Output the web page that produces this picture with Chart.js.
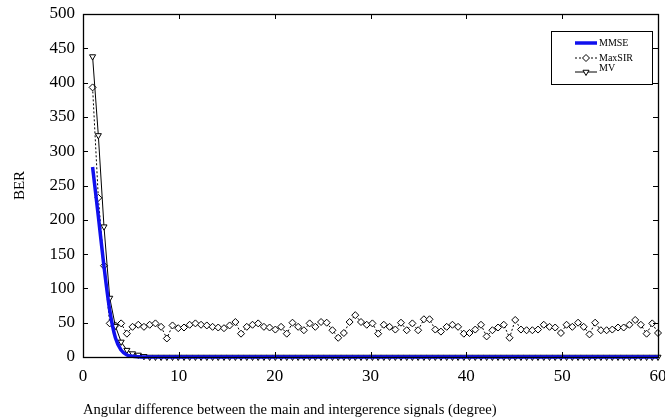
<!DOCTYPE html>
<html>
<head>
<meta charset="utf-8">
<script src="https://cdn.jsdelivr.net/npm/chart.js@4.4.0/dist/chart.umd.min.js"></script>
<style>
  html, body { margin: 0; padding: 0; background: #fff; }
  #wrap { width: 665px; height: 419px; }
</style>
</head>
<body>
<div id="wrap"><canvas id="berChart" width="665" height="419"></canvas></div>
<script>
// angle grid (degree), 100 points from 1 to 60
const angles = [
  1.00, 1.60, 2.19, 2.79, 3.38, 3.98, 4.58, 5.17, 5.77, 6.36,
  6.96, 7.56, 8.15, 8.75, 9.34, 9.94, 10.54, 11.13, 11.73, 12.32,
  12.92, 13.52, 14.11, 14.71, 15.30, 15.90, 16.49, 17.09, 17.69, 18.28,
  18.88, 19.47, 20.07, 20.67, 21.26, 21.86, 22.45, 23.05, 23.65, 24.24,
  24.84, 25.43, 26.03, 26.63, 27.22, 27.82, 28.41, 29.01, 29.61, 30.20,
  30.80, 31.39, 31.99, 32.59, 33.18, 33.78, 34.37, 34.97, 35.57, 36.16,
  36.76, 37.35, 37.95, 38.55, 39.14, 39.74, 40.33, 40.93, 41.53, 42.12,
  42.72, 43.31, 43.91, 44.51, 45.10, 45.70, 46.29, 46.89, 47.48, 48.08,
  48.68, 49.27, 49.87, 50.46, 51.06, 51.66, 52.25, 52.85, 53.44, 54.04,
  54.64, 55.23, 55.83, 56.42, 57.02, 57.62, 58.21, 58.81, 59.40, 60.00
];

const mmse = [
  277, 205, 132, 68, 28, 10, 3, 1, 0.3, 0,
  0, 0, 0, 0, 0, 0, 0, 0, 0, 0,
  0, 0, 0, 0, 0, 0, 0, 0, 0, 0,
  0, 0, 0, 0, 0, 0, 0, 0, 0, 0,
  0, 0, 0, 0, 0, 0, 0, 0, 0, 0,
  0, 0, 0, 0, 0, 0, 0, 0, 0, 0,
  0, 0, 0, 0, 0, 0, 0, 0, 0, 0,
  0, 0, 0, 0, 0, 0, 0, 0, 0, 0,
  0, 0, 0, 0, 0, 0, 0, 0, 0, 0,
  0, 0, 0, 0, 0, 0, 0, 0, 0, 0
];

const maxSIR = [
  393, 232, 133, 49, 46, 49, 34, 44, 47, 44,
  47, 49, 44, 27, 46, 42, 43, 47, 49, 47,
  46, 44, 43, 42, 46, 51, 34, 44, 47, 49,
  44, 43, 40, 44, 34, 50, 44, 39, 49, 44,
  51, 50, 39, 28, 35, 51, 61, 51, 47, 49,
  34, 47, 44, 40, 50, 39, 49, 39, 55, 55,
  40, 37, 44, 47, 44, 34, 35, 40, 47, 30,
  39, 43, 47, 28, 54, 40, 39, 39, 40, 47,
  44, 43, 35, 47, 44, 50, 44, 33, 50, 39,
  39, 40, 43, 43, 47, 54, 47, 34, 49, 35
];

const mv = [
  438, 323, 190, 86, 45, 22, 10, 5, 3, 1,
  0, 0, 0, 0, 0, 0, 0, 0, 0, 0,
  0, 0, 0, 0, 0, 0, 0, 0, 0, 0,
  0, 0, 0, 0, 0, 0, 0, 0, 0, 0,
  0, 0, 0, 0, 0, 0, 0, 0, 0, 0,
  0, 0, 0, 0, 0, 0, 0, 0, 0, 0,
  0, 0, 0, 0, 0, 0, 0, 0, 0, 0,
  0, 0, 0, 0, 0, 0, 0, 0, 0, 0,
  0, 0, 0, 0, 0, 0, 0, 0, 0, 0,
  0, 0, 0, 0, 0, 0, 0, 0, 0, 0
];

const xTicks = [0, 10, 20, 30, 40, 50, 60];
const yTicks = [0, 50, 100, 150, 200, 250, 300, 350, 400, 450, 500];

const serif = "'Liberation Serif', 'Times New Roman', serif";

function pairs(ys) {
  return angles.map((a, i) => ({ x: a, y: ys[i] }));
}

// box around the plot with inward ticks on all four sides
const frame = {
  id: "frame",
  afterDatasetsDraw(chart) {
    const { ctx, chartArea: a, scales } = chart;
    ctx.save();
    ctx.strokeStyle = "#000";
    ctx.lineWidth = 1;
    ctx.beginPath();
    xTicks.forEach(v => {
      const px = Math.round(scales.x.getPixelForValue(v)) + 0.5;
      ctx.moveTo(px, a.bottom); ctx.lineTo(px, a.bottom - 5);
      ctx.moveTo(px, a.top); ctx.lineTo(px, a.top + 5);
    });
    yTicks.forEach(v => {
      const py = Math.round(scales.y.getPixelForValue(v)) + 0.5;
      ctx.moveTo(a.left, py); ctx.lineTo(a.left + 5, py);
      ctx.moveTo(a.right, py); ctx.lineTo(a.right - 5, py);
    });
    ctx.stroke();
    ctx.lineWidth = 1.3;
    ctx.strokeRect(Math.round(a.left) + 0.5, Math.round(a.top) + 0.5,
      Math.round(a.right - a.left), Math.round(a.bottom - a.top));
    ctx.restore();
  }
};

// matlab-like legend box in the upper right corner
const legendBox = {
  id: "legendBox",
  afterDraw(chart) {
    const { ctx, chartArea: a } = chart;
    const x0 = a.right - 107, y0 = a.top + 17, w = 101, h = 53;
    ctx.save();
    ctx.fillStyle = "#fff";
    ctx.fillRect(x0, y0, w, h);
    ctx.strokeStyle = "#000";
    ctx.lineWidth = 1;
    ctx.strokeRect(x0 + 0.5, y0 + 0.5, w, h);
    ctx.font = "10px " + serif;
    ctx.textBaseline = "middle";
    const lx1 = x0 + 24, lx2 = x0 + 46, tx = x0 + 48;
    chart.data.datasets.forEach((ds, i) => {
      const y = y0 + 12 + i * 15 - (i === 2 ? 1 : 0);
      ctx.save();
      ctx.strokeStyle = ds.borderColor;
      ctx.lineWidth = ds.borderWidth;
      ctx.setLineDash(ds.borderDash || []);
      ctx.beginPath();
      ctx.moveTo(lx1, y); ctx.lineTo(lx2, y);
      ctx.stroke();
      ctx.restore();
      if (ds.pointRadius > 0) {
        ctx.fillStyle = ds.pointBackgroundColor;
        ctx.strokeStyle = ds.pointBorderColor;
        ctx.lineWidth = 1;
        Chart.helpers.drawPoint(ctx, {
          pointStyle: ds.pointStyle,
          rotation: ds.pointRotation || 0,
          radius: ds.pointRadius,
          borderWidth: 1
        }, (lx1 + lx2) / 2, y);
      }
      ctx.fillStyle = "#000";
      ctx.fillText(ds.label, tx, y - (i === 2 ? 4 : 0));
    });
    ctx.restore();
  }
};

new Chart(document.getElementById("berChart"), {
  type: "line",
  data: {
    datasets: [
      {
        label: "MMSE",
        data: pairs(mmse),
        borderColor: "#1010ee",
        borderWidth: 3.5,
        pointRadius: 0,
        cubicInterpolationMode: "monotone",
        order: 0,
        clip: false
      },
      {
        label: "MaxSIR",
        data: pairs(maxSIR),
        borderColor: "#000",
        borderWidth: 1,
        borderDash: [2, 2],
        pointStyle: "rectRot",
        pointRadius: 3.5,
        pointBorderWidth: 1,
        pointBackgroundColor: "#fff",
        pointBorderColor: "#000",
        order: 2,
        clip: false
      },
      {
        label: "MV",
        data: pairs(mv),
        borderColor: "#000",
        borderWidth: 1,
        pointStyle: "triangle",
        pointRotation: 180,
        pointRadius: 3.5,
        pointBorderWidth: 1,
        pointBackgroundColor: "#fff",
        pointBorderColor: "#000",
        order: 1,
        clip: false
      }
    ]
  },
  options: {
    responsive: false,
    animation: false,
    layout: { padding: { left: 0, right: 7, top: 14, bottom: 0 } },
    plugins: {
      legend: { display: false },
      tooltip: { enabled: false }
    },
    scales: {
      x: {
        type: "linear",
        min: 0,
        max: 60,
        afterBuildTicks: s => { s.ticks = xTicks.map(v => ({ value: v })); },
        afterFit: s => { s.height = 62; s.paddingLeft = 0; s.paddingRight = 0; },
        grid: { display: false, drawTicks: false },
        border: { display: false },
        ticks: { color: "#000", padding: 9, font: { family: serif, size: 17 } },
        title: {
          display: true,
          align: "start",
          text: "Angular difference between the main and intergerence signals (degree)",
          color: "#000",
          font: { family: serif, size: 14.6 },
          padding: { top: 8, bottom: 0 }
        }
      },
      y: {
        min: 0,
        max: 500,
        afterBuildTicks: s => { s.ticks = yTicks.map(v => ({ value: v })); },
        afterFit: s => { s.width = 83; s.paddingTop = 0; s.paddingBottom = 0; },
        grid: { display: false, drawTicks: false },
        border: { display: false },
        ticks: { color: "#000", padding: 8, font: { family: serif, size: 17 } },
        title: {
          display: true,
          text: "BER",
          color: "#000",
          font: { family: serif, size: 15 },
          padding: { top: 11, bottom: 0 }
        }
      }
    }
  },
  plugins: [frame, legendBox]
});
</script>
</body>
</html>
